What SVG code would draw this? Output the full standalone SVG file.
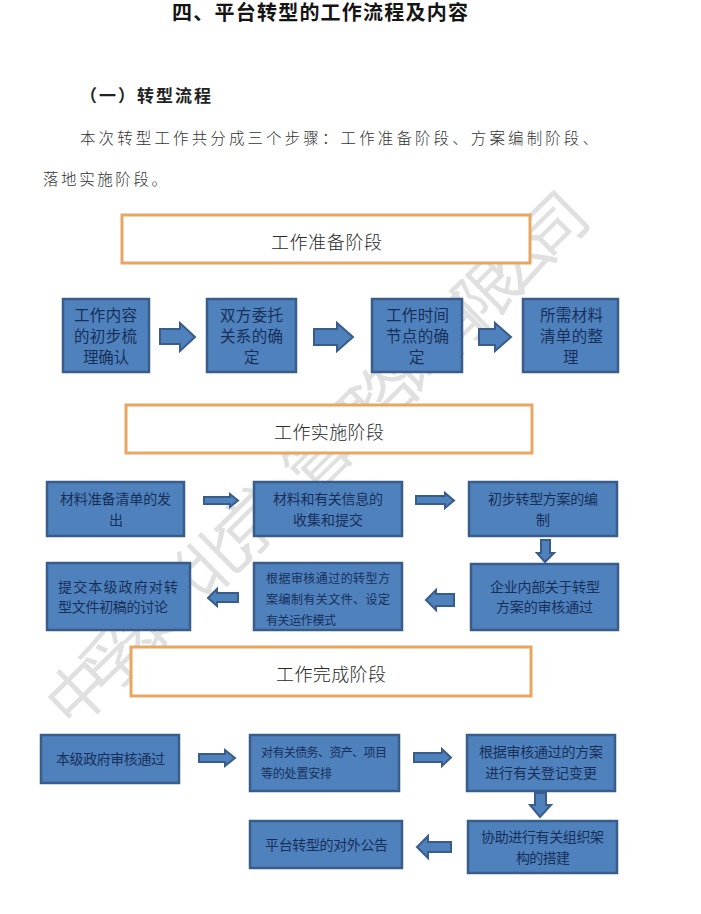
<svg xmlns="http://www.w3.org/2000/svg" width="701" height="914" viewBox="0 0 701 914">
<style>
text{font-family:"Noto Sans CJK SC","Noto Sans",sans-serif}
.t{fill:#151515;font-family:"Liberation Sans","Noto Sans CJK SC",sans-serif;font-size:20px;font-weight:700}
.s{fill:#222;font-size:17px;font-weight:700}
.b{fill:#333;font-size:15.5px;font-weight:300}
.wm{fill:#e0e0e0;font-size:64px;font-weight:400}
.h rect{fill:#fff;stroke:#E8A662;stroke-width:3}
.h text{fill:#2b2b2b;font-size:18px;font-weight:300}
.n rect{fill:#4F81BD;stroke:#385D8A;stroke-width:2.5}
.n text{fill:#17305a;font-size:14px}
.n text.m{font-size:15.5px}
.n text.f{font-size:12px}
#connectors polygon{fill:#4F81BD;stroke:#385D8A;stroke-width:2}
</style>
<rect width="701" height="914" fill="#fff"/>
<text class="wm" x="318" y="482" text-anchor="middle" textLength="730" lengthAdjust="spacing" transform="rotate(-44.5 318 460)">中孚泰&#xFF08;北京&#xFF09;管理咨询有限公司</text>
<text class="t" x="172" y="20" textLength="296" lengthAdjust="spacing">四、平台转型的工作流程及内容</text>
<text class="s" x="80" y="102" textLength="131" lengthAdjust="spacing">&#xFF08;一&#xFF09;转型流程</text>
<text class="b" x="80" y="144" textLength="518" lengthAdjust="spacing">本次转型工作共分成三个步骤&#xFF1A;工作准备阶段、方案编制阶段、</text>
<text class="b" x="43" y="185" textLength="124" lengthAdjust="spacing">落地实施阶段。</text>

<g id="header-prep" class="h"><rect x="122" y="215" width="408" height="48"/><text x="271" y="249" textLength="111" lengthAdjust="spacing">工作准备阶段</text></g>
<g id="header-impl" class="h"><rect x="126" y="405" width="406" height="48"/><text x="274" y="439" textLength="110" lengthAdjust="spacing">工作实施阶段</text></g>
<g id="header-done" class="h"><rect x="131" y="647" width="400" height="49"/><text x="276" y="681" textLength="110" lengthAdjust="spacing">工作完成阶段</text></g>

<g id="n1" class="n"><rect x="63" y="299" width="86" height="73"/><text class="m" x="74" y="321" textLength="63" lengthAdjust="spacing">工作内容</text><text class="m" x="74" y="342" textLength="63" lengthAdjust="spacing">的初步梳</text><text class="m" x="83" y="363" textLength="46" lengthAdjust="spacing">理确认</text></g>
<g id="n2" class="n"><rect x="207" y="299" width="89" height="73"/><text class="m" x="220" y="321" textLength="63" lengthAdjust="spacing">双方委托</text><text class="m" x="220" y="342" textLength="63" lengthAdjust="spacing">关系的确</text><text class="m" x="244" y="363">定</text></g>
<g id="n3" class="n"><rect x="372" y="299" width="90" height="73"/><text class="m" x="386" y="321" textLength="63" lengthAdjust="spacing">工作时间</text><text class="m" x="386" y="342" textLength="63" lengthAdjust="spacing">节点的确</text><text class="m" x="409" y="363">定</text></g>
<g id="n4" class="n"><rect x="523" y="299" width="95" height="73"/><text class="m" x="540" y="321" textLength="63" lengthAdjust="spacing">所需材料</text><text class="m" x="540" y="342" textLength="63" lengthAdjust="spacing">清单的整</text><text class="m" x="563" y="363">理</text></g>

<g id="n5" class="n"><rect x="47" y="482" width="137" height="54"/><text x="60" y="504" textLength="111" lengthAdjust="spacing">材料准备清单的发</text><text x="109" y="525">出</text></g>
<g id="n6" class="n"><rect x="254" y="482" width="148" height="54"/><text x="273" y="504" textLength="110" lengthAdjust="spacing">材料和有关信息的</text><text x="293" y="525" textLength="70" lengthAdjust="spacing">收集和提交</text></g>
<g id="n7" class="n"><rect x="469" y="482" width="148" height="54"/><text x="488" y="504" textLength="110" lengthAdjust="spacing">初步转型方案的编</text><text x="536" y="525">制</text></g>
<g id="n8" class="n"><rect x="471" y="564" width="147" height="66"/><text x="490" y="592" textLength="110" lengthAdjust="spacing">企业内部关于转型</text><text x="496" y="612" textLength="97" lengthAdjust="spacing">方案的审核通过</text></g>
<g id="n9" class="n"><rect x="254" y="563" width="148" height="67"/><text class="f" x="266" y="583" textLength="124" lengthAdjust="spacing">根据审核通过的转型方</text><text class="f" x="266" y="604" textLength="124" lengthAdjust="spacing">案编制有关文件、设定</text><text class="f" x="266" y="625" textLength="70" lengthAdjust="spacing">有关运作模式</text></g>
<g id="n10" class="n"><rect x="47" y="563" width="143" height="67"/><text x="58" y="592" textLength="120" lengthAdjust="spacing">提交本级政府对转</text><text x="58" y="612" textLength="110" lengthAdjust="spacing">型文件初稿的讨论</text></g>

<g id="n11" class="n"><rect x="41" y="735" width="138" height="48"/><text x="56" y="764" textLength="109" lengthAdjust="spacing">本级政府审核通过</text></g>
<g id="n12" class="n"><rect x="250" y="735" width="149" height="56"/><text class="f" x="261" y="757" textLength="126" lengthAdjust="spacing">对有关债务、资产、项目</text><text class="f" x="261" y="778" textLength="71" lengthAdjust="spacing">等的处置安排</text></g>
<g id="n13" class="n"><rect x="467" y="735" width="148" height="56"/><text x="479" y="757" textLength="124" lengthAdjust="spacing">根据审核通过的方案</text><text x="485" y="778" textLength="112" lengthAdjust="spacing">进行有关登记变更</text></g>
<g id="n14" class="n"><rect x="468" y="821" width="149" height="52"/><text x="481" y="842" textLength="123" lengthAdjust="spacing">协助进行有关组织架</text><text x="516" y="863" textLength="54" lengthAdjust="spacing">构的搭建</text></g>
<g id="n15" class="n"><rect x="250" y="821" width="152" height="47"/><text x="265" y="850" textLength="123" lengthAdjust="spacing">平台转型的对外公告</text></g>

<g id="connectors">
<polygon points="160,329 180,329 180,323 195,337 180,351 180,344 160,344"/>
<polygon points="314,329 337,329 337,323 353,337 337,351 337,345 314,345"/>
<polygon points="479,329 495,329 495,323 511,337 495,351 495,345 479,345"/>
<polygon points="204,497 230,497 230,494 238,500.5 230,507 230,504 204,504"/>
<polygon points="416,496 445,496 445,493 454,500.5 445,508 445,504 416,504"/>
<polygon points="541,540 550,540 550,553 554,553 545,562 537,553 541,553"/>
<polygon points="454,594 436,594 436,590 426,600 436,610 436,606 454,606"/>
<polygon points="238,593 217,593 217,589 208,598 217,606 217,602 238,602"/>
<polygon points="199,754 225,754 225,750 235,758 225,766 225,762 199,762"/>
<polygon points="414,753 442,753 442,749 451,757.5 442,766 442,762 414,762"/>
<polygon points="535,793 546,793 546,805 551,805 540,817 530,805 535,805"/>
<polygon points="451,842 428,842 428,836 417,847 428,858 428,852 451,852"/>
</g>
</svg>
